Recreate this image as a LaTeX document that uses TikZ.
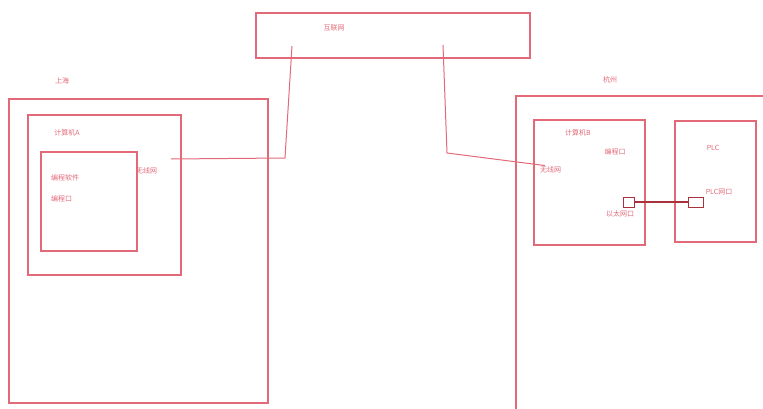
\documentclass[tikz,border=0pt]{standalone}
\usepackage{fontspec}
\setmainfont{Noto Sans CJK SC}
\usepackage{tikz}
\definecolor{redline}{RGB}{226,105,120}
\definecolor{portline}{RGB}{170,50,60}
\tikzset{
  frame/.style={draw=redline, line width=1.2pt, inner sep=0pt},
  port/.style={draw=portline, line width=1pt, inner sep=0pt, minimum width=11pt, minimum height=10pt},
  txt/.style={text=redline, font=\fontsize{7}{8}\selectfont, inner sep=1pt},
}
\begin{document}
\begin{tikzpicture}[x=1pt, y=-1pt]
\useasboundingbox (0,0) rectangle (763,409);

% internet
\node[frame, minimum width=274pt, minimum height=45pt] (net) at (393,35.5) {};
\node[txt] (netlbl) at (334,28) {互联网};

% Shanghai side
\node[txt] (sitea) at (62,81) {上海};
\node[frame, minimum width=259pt, minimum height=304pt] (boxa) at (138.5,251) {};
\node[frame, minimum width=153pt, minimum height=160pt] (pca) at (104.5,195) {};
\node[txt] (pcalbl) at (67,133) {计算机A};
\node[frame, minimum width=96pt, minimum height=99pt] (soft) at (89,201.5) {};
\node[txt, anchor=west] (softlbl) at (50,178) {编程软件};
\node[txt, anchor=west] (softport) at (50,199) {编程口};
\node[txt, anchor=west] (wifia) at (135,171) {无线网};

% Hangzhou side
\node[txt] (siteb) at (610,80) {杭州};
\coordinate (boxbtop) at (763,96);
\coordinate (boxbcorner) at (516,96);
\coordinate (boxbbot) at (516,409);
\draw[redline, line width=1.2pt] (boxbtop) -- (boxbcorner) -- (boxbbot);
\node[frame, minimum width=111pt, minimum height=125pt] (pcb) at (589.5,182.5) {};
\node[txt] (pcblbl) at (578,133) {计算机B};
\node[txt] (pcbport) at (615,152) {编程口};
\node[txt, anchor=west] (wifib) at (539,170) {无线网};
\node[port] (ethb) at (629,202) {};
\node[txt] (ethlbl) at (620,214) {以太网口};
\node[frame, minimum width=81pt, minimum height=121pt] (plc) at (715.5,181.5) {};
\node[txt] (plclbl) at (713,148) {PLC};
\node[txt] (plcportlbl) at (719,192) {PLC网口};
\node[port, minimum width=15pt] (plcport) at (695.5,202) {};

% links
\coordinate (starta) at (171,159);
\coordinate (bendA) at (285,158);
\coordinate (neta) at (292,46);
\coordinate (netb) at (443,45);
\coordinate (bendB) at (447,153);
\draw[redline, line width=1pt] (starta) -- (bendA) -- (neta);
\draw[redline, line width=1pt] (netb) -- (bendB) -- ([xshift=6pt]wifib.north west);
\draw[portline, line width=1.2pt] (ethb.east) -- (plcport.west);
\end{tikzpicture}
\end{document}
